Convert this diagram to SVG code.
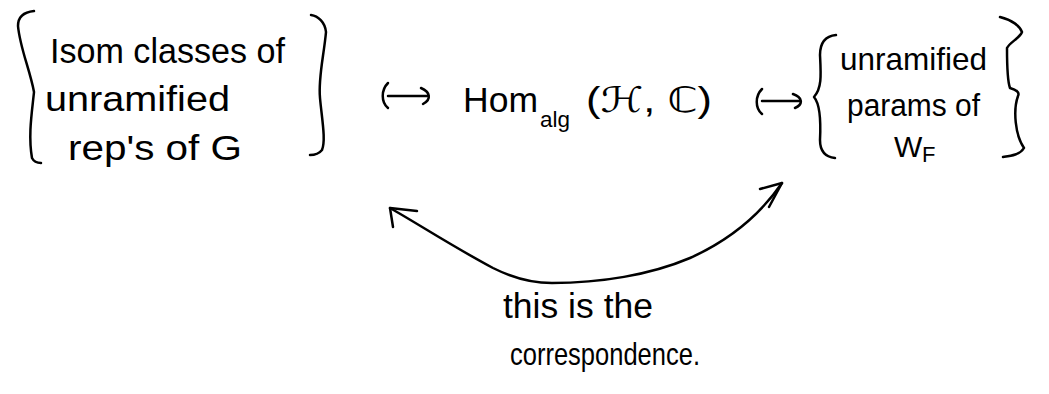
<svg xmlns="http://www.w3.org/2000/svg" width="1049" height="394" viewBox="0 0 1049 394">
<style>
text{font-family:"Liberation Sans","DejaVu Sans",sans-serif;fill:#000;}
.t{font-size:35px;}
.s{font-size:22px;}
.ln{fill:none;stroke:#000;stroke-width:2.5;stroke-linecap:round;stroke-linejoin:round;}
</style>
<rect width="1049" height="394" fill="#fff"/>
<g id="left-set">
<path class="ln" d="M34,11 C24,12 18,16 18,26 C20,48 30,70 34,92 C32,112 28,135 32,158 C34,162 38,163 41,163"/>
<path class="ln" d="M311,15 C318,16 325,22 326,32 C324,55 318,78 320,98 C322,120 326,140 322,150 C318,155 313,155 310,155"/>
<text class="t" x="50" y="63" font-size="36" textLength="235" lengthAdjust="spacingAndGlyphs">Isom classes of</text>
<text class="t" x="45" y="111" textLength="185" lengthAdjust="spacingAndGlyphs">unramified</text>
<text class="t" x="68" y="160" textLength="174" lengthAdjust="spacingAndGlyphs">rep's  of  G</text>
</g>
<g id="hom">
<text class="t" x="463" y="112" font-size="44" textLength="75" lengthAdjust="spacingAndGlyphs">Hom</text>
<text class="s" x="540" y="127" textLength="30" lengthAdjust="spacingAndGlyphs">alg</text>
<text class="t" x="586" y="112" font-size="42" textLength="126" lengthAdjust="spacingAndGlyphs">(ℋ, ℂ)</text>
</g>
<g id="right-set">
<path class="ln" d="M836,35 C826,36 820,42 820,55 C821,75 822,88 814,97 C820,104 821,120 820,140 C820,152 826,157 835,158"/>
<path class="ln" d="M1000,17 C1012,20 1020,26 1022,32 C1020,38 1010,42 1007,48 C1007,65 1007,80 1010,88 C1016,90 1020,92 1018,96 C1013,110 1015,135 1024,148 C1020,155 1010,156 1003,157"/>
<text x="840" y="70" font-size="32" textLength="147" lengthAdjust="spacingAndGlyphs">unramified</text>
<text x="847" y="116" font-size="31" textLength="133" lengthAdjust="spacingAndGlyphs">params of</text>
<text x="894" y="157" font-size="30">W</text>
<text class="s" x="922" y="162" font-size="18">F</text>
</g>
<g id="label">
<text x="503" y="318" font-size="35" textLength="150" lengthAdjust="spacingAndGlyphs">this is the</text>
<text x="510" y="365" font-size="32" textLength="190" lengthAdjust="spacingAndGlyphs">correspondence.</text>
</g>
<g id="connectors">
<path class="ln" d="M388,83 C381,90 381,102 388,108 M388,96 L428,96 M421,88 C430,92 432,99 423,104"/>
<path class="ln" d="M762,89 C755,96 755,108 762,114 M762,101 L800,101 M793,94 C802,97 804,104 795,108"/>
<path class="ln" d="M390,208 C420,225 450,245 493,268 C515,279 535,283 552,283 C600,283 650,275 690,258 C730,240 760,215 782,183"/>
<path class="ln" d="M417,211 L390,208 L393,227"/>
<path class="ln" d="M760,189 L782,183 L769,207"/>
</g>
</svg>
